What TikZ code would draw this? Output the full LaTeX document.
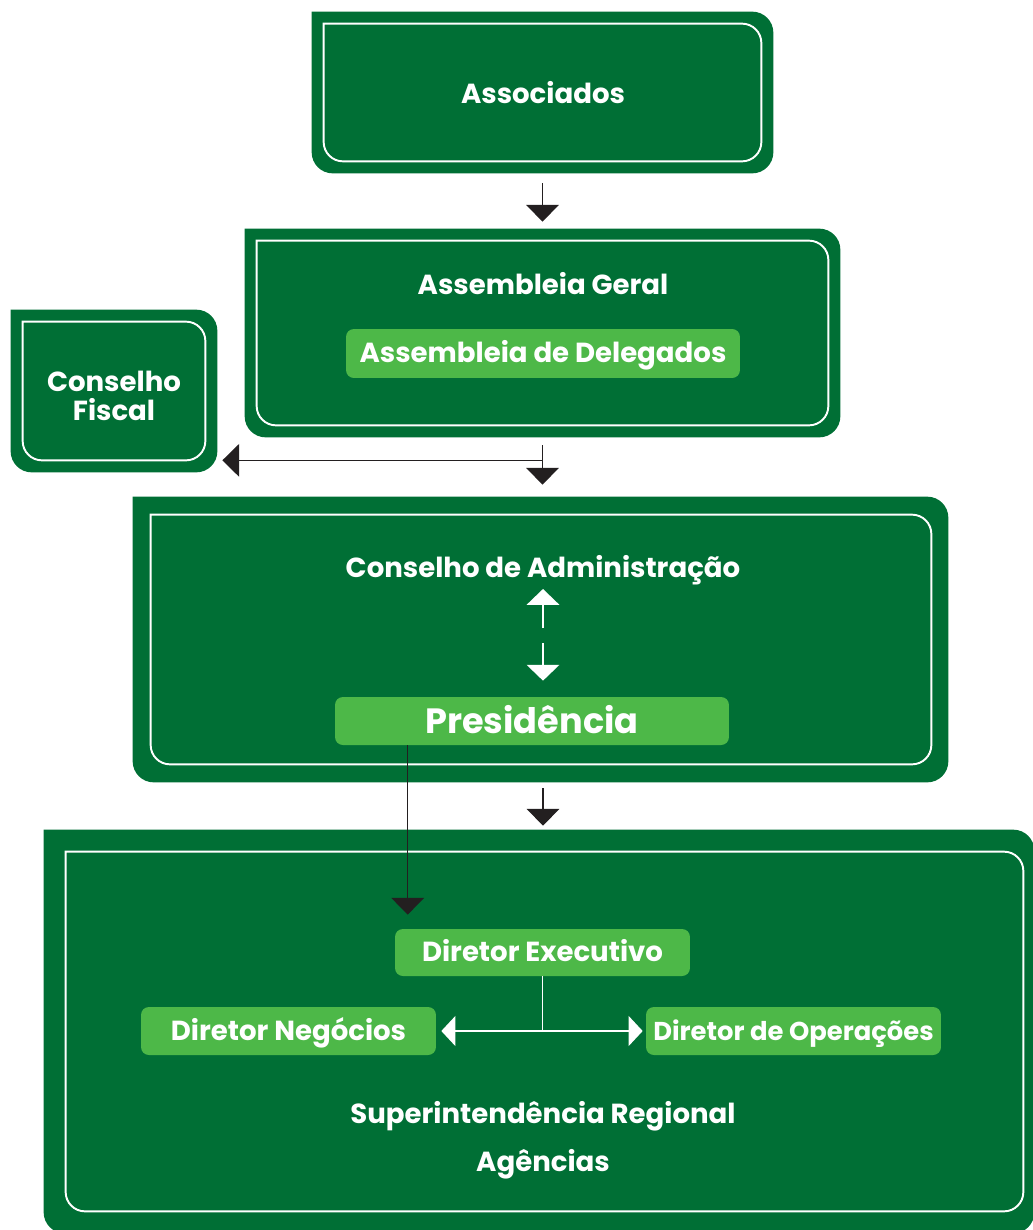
\documentclass[tikz,border=0pt]{standalone}
\usepackage{fontspec}
\setmainfont{Poppins}
\usetikzlibrary{arrows.meta,calc,fit}

\definecolor{dkgreen}{RGB}{0,111,53}
\definecolor{ltgreen}{RGB}{77,184,72}
\definecolor{arrowblack}{RGB}{35,31,32}

% dark panel: sharp top left corner, white line inside
\newcommand{\panel}[7]{%
  \node[fit={(#2,#3) (#4,#5)}, inner sep=0pt] (#1) {};
  \fill[dkgreen, rounded corners=12pt] (#1.north west) -- (#1.north east) -- (#1.south east) -- (#1.south west) -- (#1.north west);
  \draw[white, line width=1.1pt, line cap=rect, rounded corners=11pt]
    ($(#1.north west)+(#6,#6)$) -- ($(#1.north east)+(-#7,#6)$) -- ($(#1.south east)+(-#7,-#6)$) -- ($(#1.south west)+(#6,-#6)$) -- ($(#1.north west)+(#6,#6)$);
}

\begin{document}
\begin{tikzpicture}[x=0.02cm, y=-0.02cm,
  txt/.style={text=white, font=\bfseries\fontsize{15.7}{18}\selectfont, inner sep=0pt, anchor=base},
  lbox/.style={fill=ltgreen, rounded corners=4.5pt, text=white, font=\bfseries\fontsize{15.7}{18}\selectfont,
    minimum height=0.96cm, inner sep=0pt, text height=10.8pt, text depth=0pt},
  blk/.style={draw=arrowblack, line width=0.75pt, -{Triangle[width=18.5pt,length=9.5pt]}},
  wht/.style={draw=white, line width=0.9pt, -{Triangle[width=18.5pt,length=9pt]}}]
\useasboundingbox (0,0) rectangle (1033,1230);

\panel{assoc}{312}{12}{773}{173}{12}{12}
\panel{ag}{245}{229}{840}{437}{12}{12}
\panel{fiscal}{11}{310}{217}{472}{12}{12}
\panel{ca}{133}{497}{948}{782}{18}{17}
\panel{su}{44}{830}{1034}{1233}{22}{11}

\node[txt] (assoctext) at (543,104) {Associados};
\node[txt] (agtext) at (543,294) {Assembleia Geral};
\node[lbox, minimum width=7.88cm, minimum height=0.98cm] (deleg) at (543,353.5) {Assembleia de Delegados};
\node[txt, anchor=center, align=center] (fiscaltext) at (114,396) {Conselho\\[-1.6pt]Fiscal};
\node[txt] (catext) at (543,577) {Conselho de Administração};
\node[lbox, minimum width=7.88cm, font=\bfseries\fontsize{20}{24}\selectfont, text height=14pt] (pres) at (532,721) {Presidência};
\node[lbox, minimum width=5.9cm, minimum height=0.94cm] (dirE) at (542.5,952.5) {Diretor Executivo};
\node[lbox, minimum width=5.9cm] (dirN) at (288.5,1031) {Diretor Negócios};
\node[lbox, minimum width=5.9cm, font=\bfseries\fontsize{14.7}{18}\selectfont] (dirO) at (793.5,1031) {Diretor de Operações};
\node[txt] (sup) at (543,1123) {Superintendência Regional};
\node[txt] (agenc) at (543,1171) {Agências};

\coordinate (split) at ($(ag.south)+(0,23)$);
\draw[blk] ($(assoc.south)+(0,10)$) -- ($(ag.north)+(0,-7)$);
\draw[blk] ($(ag.south)+(0,8)$) -- ($(ca.north -| ag.south)+(0,-12)$);
\draw[blk] (split) -- ($(split -| fiscal.east)+(5,0)$);

\draw[wht] ($(catext.base)+(0,51)$) -- ($(catext.base)+(0,12)$);
\draw[wht] ($(catext.base)+(0,66)$) -- ($(catext.base |- pres.north)+(0,-16)$);

\draw[blk] ($(catext.base |- ca.south)+(0,6)$) -- ($(catext.base |- su.north)+(0,-4)$);
\coordinate (p1) at ($(pres.south west)+(73,0)$);
\draw[blk] (p1) -- ($(p1 |- dirE.north)+(0,-14)$);

\coordinate (junc) at (dirE.south |- dirN.east);
\draw[white, line width=0.9pt] (dirE.south) -- (junc);
\draw[wht, {Triangle[width=17pt,length=8pt]}-{Triangle[width=17pt,length=8pt]}] ($(dirN.east)+(5,0)$) -- ($(dirO.west)+(-3,0)$);
\end{tikzpicture}
\end{document}
